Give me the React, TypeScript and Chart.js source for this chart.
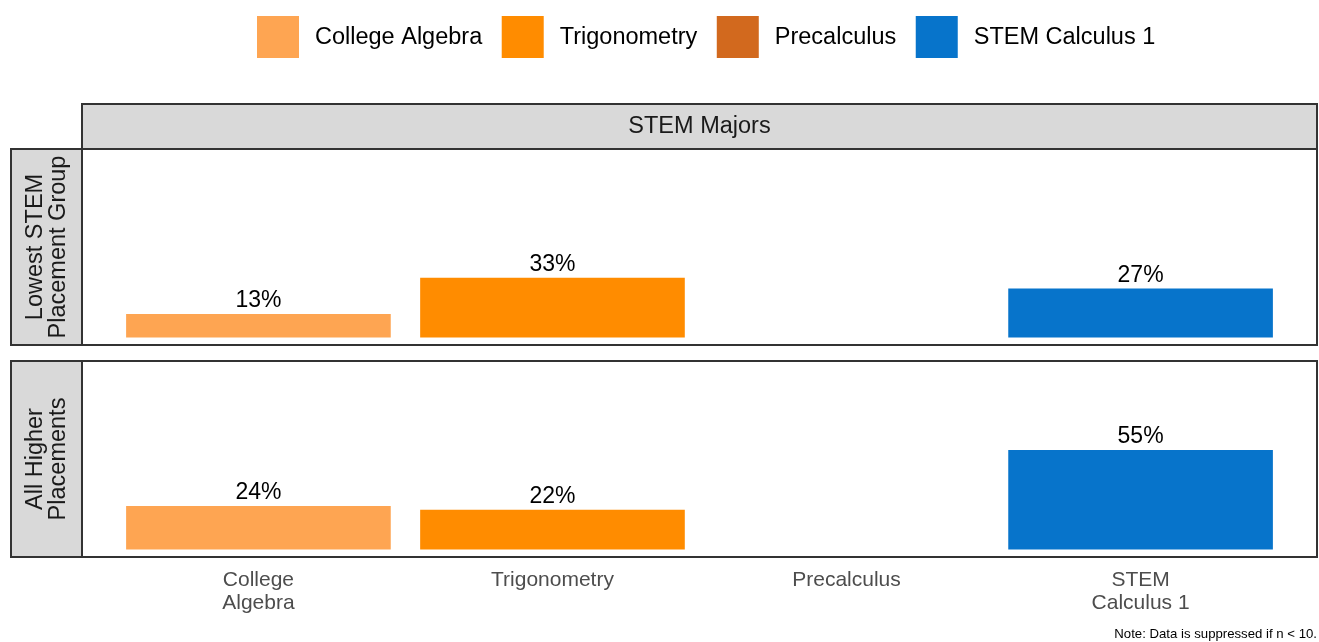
import { useEffect, useRef } from "react";
import { Chart, registerables } from "chart.js";

Chart.register(...registerables);

const categories = ["College Algebra", "Trigonometry", "Precalculus", "STEM Calculus 1"];
const tickLabels = [["College", "Algebra"], ["Trigonometry"], ["Precalculus"], ["STEM", "Calculus 1"]];
const colors = ["#FEA552", "#FF8C00", "#D2691E", "#0774CB"];
const columnStrip = "STEM Majors";
const rowStrips = [["Lowest STEM", "Placement Group"], ["All Higher", "Placements"]];
const lowestValues: (number | null)[] = [13, 33, null, 27];
const higherValues: (number | null)[] = [24, 22, null, 55];
const noteText = "Note: Data is suppressed if n < 10.";

const FONT = "'Liberation Sans', Arial, Helvetica, sans-serif";
const W = 1319;
const TOP_H = 354;
const BOT_H = 288;
const STRIP_FILL = "#D9D9D9";
const BORDER = "#333333";
const STRIP_TEXT = "#1A1A1A";

function drawBorder(ctx: CanvasRenderingContext2D, x: number, y: number, w: number, h: number, fill?: string) {
  ctx.save();
  if (fill) {
    ctx.fillStyle = fill;
    ctx.fillRect(x, y, w, h);
  }
  ctx.strokeStyle = BORDER;
  ctx.lineWidth = 2;
  ctx.strokeRect(x, y, w, h);
  ctx.restore();
}

function drawRowStrip(ctx: CanvasRenderingContext2D, area: any, lines: string[]) {
  const x0 = 11;
  drawBorder(ctx, x0, area.top, area.left - x0, area.bottom - area.top, STRIP_FILL);
  ctx.save();
  const cx = (x0 + area.left) / 2 + 0.5;
  const cy = (area.top + area.bottom) / 2;
  ctx.translate(cx, cy);
  ctx.rotate(-Math.PI / 2);
  ctx.font = `23.5px ${FONT}`;
  ctx.fillStyle = STRIP_TEXT;
  ctx.textAlign = "center";
  ctx.textBaseline = "middle";
  const lh = 23.3;
  lines.forEach((t, i) => {
    ctx.fillText(t, 0, (i - (lines.length - 1) / 2) * lh);
  });
  ctx.restore();
}

function makePlugin(values: (number | null)[], rowIndex: number, isTop: boolean) {
  return {
    id: "facetDecor" + rowIndex,
    afterDatasetsDraw(chart: any) {
      const ctx: CanvasRenderingContext2D = chart.ctx;
      const area = chart.chartArea;
      // bar labels
      const meta = chart.getDatasetMeta(0);
      ctx.save();
      ctx.font = `23px ${FONT}`;
      ctx.fillStyle = "#000000";
      ctx.textAlign = "center";
      ctx.textBaseline = "alphabetic";
      meta.data.forEach((el: any, i: number) => {
        const v = values[i];
        if (v == null) return;
        const p = el.getProps(["x", "y"], true);
        ctx.fillText(`${v}%`, p.x, p.y - 7);
      });
      ctx.restore();
      // panel border
      drawBorder(ctx, area.left, area.top, area.right - area.left, area.bottom - area.top);
      // row strip
      drawRowStrip(ctx, area, rowStrips[rowIndex]);
      if (isTop) {
        // column strip
        const sTop = 104;
        drawBorder(ctx, area.left, sTop, area.right - area.left, area.top - sTop, STRIP_FILL);
        ctx.save();
        ctx.font = `23.5px ${FONT}`;
        ctx.fillStyle = STRIP_TEXT;
        ctx.textAlign = "center";
        ctx.textBaseline = "middle";
        ctx.fillText(columnStrip, (area.left + area.right) / 2, (sTop + area.top) / 2 + 0.5);
        ctx.restore();
        // legend
        ctx.save();
        ctx.font = `23.5px ${FONT}`;
        ctx.textAlign = "left";
        ctx.textBaseline = "middle";
        const box = 42;
        const boxTop = 16;
        const keyGap = 16;
        const itemGap = 19.5;
        let x = 257;
        categories.forEach((c, i) => {
          ctx.fillStyle = colors[i];
          ctx.fillRect(x, boxTop, box, box);
          x += box + keyGap;
          ctx.fillStyle = "#000000";
          ctx.fillText(c, x, boxTop + box / 2 + 1);
          x += ctx.measureText(c).width + itemGap;
        });
        ctx.restore();
      } else {
        ctx.save();
        ctx.font = `13.2px ${FONT}`;
        ctx.fillStyle = "#000000";
        ctx.textAlign = "right";
        ctx.textBaseline = "alphabetic";
        ctx.fillText(noteText, area.right, BOT_H - 4);
        ctx.restore();
      }
    },
  };
}

function makeConfig(values: (number | null)[], rowIndex: number, isTop: boolean): any {
  const axisHeight = BOT_H - 7 - 196;
  return {
    type: "bar",
    data: {
      datasets: [
        {
          data: categories.map((_, i) => ({ x: i + 1, y: values[i] })),
          backgroundColor: colors,
          borderWidth: 0,
          barPercentage: 0.9,
          categoryPercentage: 1,
        },
      ],
    },
    options: {
      responsive: false,
      animation: false,
      devicePixelRatio: 1,
      layout: {
        padding: isTop
          ? { left: 82, right: 2, top: 149, bottom: 9 }
          : { left: 82, right: 2, top: 7, bottom: 0 },
      },
      plugins: { legend: { display: false }, tooltip: { enabled: false } },
      scales: {
        x: {
          type: "linear",
          min: 0.4,
          max: 4.6,
          offset: false,
          display: !isTop,
          grid: { display: false, drawTicks: false, offset: false },
          border: { display: false },
          afterBuildTicks: (s: any) => {
            s.ticks = categories.map((_, i) => ({ value: i + 1 }));
          },
          afterFit: (s: any) => {
            if (!isTop) s.height = axisHeight;
          },
          ticks: {
            autoSkip: false,
            maxRotation: 0,
            minRotation: 0,
            padding: 11.5,
            color: "#4D4D4D",
            font: { family: FONT, size: 21, lineHeight: "23px" },
            callback: (v: number) => tickLabels[Math.round(v) - 1] ?? "",
          },
        },
        y: { type: "linear", min: -4.2, max: 104.2, display: false },
      },
    },
    plugins: [makePlugin(values, rowIndex, isTop)],
  };
}

export default function App() {
  const topRef = useRef<HTMLCanvasElement | null>(null);
  const botRef = useRef<HTMLCanvasElement | null>(null);

  useEffect(() => {
    const charts: Chart[] = [];
    if (topRef.current) charts.push(new Chart(topRef.current, makeConfig(lowestValues, 0, true)));
    if (botRef.current) charts.push(new Chart(botRef.current, makeConfig(higherValues, 1, false)));
    return () => charts.forEach((c) => c.destroy());
  }, []);

  return (
    <div style={{ position: "absolute", left: 0, top: 0, width: W, height: TOP_H + BOT_H, background: "#ffffff" }}>
      <canvas
        ref={topRef}
        width={W}
        height={TOP_H}
        style={{ position: "absolute", left: 0, top: 0, width: W, height: TOP_H, display: "block" }}
      />
      <canvas
        ref={botRef}
        width={W}
        height={BOT_H}
        style={{ position: "absolute", left: 0, top: TOP_H, width: W, height: BOT_H, display: "block" }}
      />
    </div>
  );
}
